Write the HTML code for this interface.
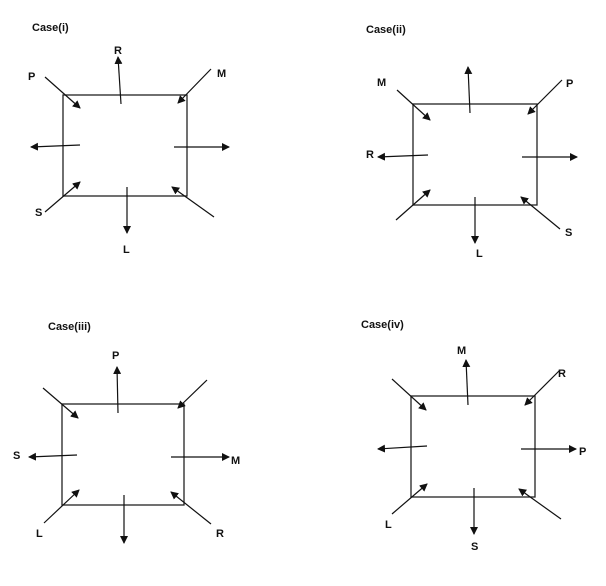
<!DOCTYPE html>
<html><head><style>body{margin:0;background:#fff}svg text{font-family:"Liberation Sans",sans-serif;font-weight:bold;font-size:11px;fill:#111}</style></head><body>
<svg width="606" height="581" xmlns="http://www.w3.org/2000/svg">
<defs><marker id="a" markerWidth="8" markerHeight="8" refX="7" refY="4" orient="auto" markerUnits="userSpaceOnUse"><path d="M0,0 L8,4 L0,8z" fill="#111"/></marker></defs>
<g stroke="#222" stroke-width="1.3" fill="none">
<rect x="63" y="95" width="124" height="101"/>
<rect x="413" y="104" width="124" height="101"/>
<rect x="62" y="404" width="122" height="101"/>
<rect x="411" y="396" width="124" height="101"/>
</g>
<g stroke="#111" stroke-width="1.2" marker-end="url(#a)">
<line x1="121" y1="104" x2="118" y2="57"/><line x1="45" y1="77" x2="80" y2="108"/><line x1="211" y1="69" x2="178" y2="103"/><line x1="80" y1="145" x2="31" y2="147"/><line x1="174" y1="147" x2="229" y2="147"/><line x1="45" y1="212" x2="80" y2="182"/><line x1="214" y1="217" x2="172" y2="187"/><line x1="127" y1="187" x2="127" y2="233"/>
<line x1="470" y1="113" x2="468" y2="67"/><line x1="397" y1="90" x2="430" y2="120"/><line x1="562" y1="80" x2="528" y2="114"/><line x1="428" y1="155" x2="378" y2="157"/><line x1="522" y1="157" x2="577" y2="157"/><line x1="396" y1="220" x2="430" y2="190"/><line x1="560" y1="229" x2="521" y2="197"/><line x1="475" y1="197" x2="475" y2="243"/>
<line x1="118" y1="413" x2="117" y2="367"/><line x1="43" y1="388" x2="78" y2="418"/><line x1="207" y1="380" x2="178" y2="408"/><line x1="77" y1="455" x2="29" y2="457"/><line x1="171" y1="457" x2="229" y2="457"/><line x1="44" y1="523" x2="79" y2="490"/><line x1="211" y1="524" x2="171" y2="492"/><line x1="124" y1="495" x2="124" y2="543"/>
<line x1="468" y1="405" x2="466" y2="360"/><line x1="392" y1="379" x2="426" y2="410"/><line x1="560" y1="370" x2="525" y2="405"/><line x1="427" y1="446" x2="378" y2="449"/><line x1="521" y1="449" x2="576" y2="449"/><line x1="392" y1="514" x2="427" y2="484"/><line x1="561" y1="519" x2="519" y2="489"/><line x1="474" y1="488" x2="474" y2="534"/>
</g>
<text x="32" y="31">Case(i)</text><text x="114" y="54">R</text><text x="28" y="80">P</text><text x="217" y="77">M</text><text x="35" y="216">S</text><text x="123" y="253">L</text>
<text x="366" y="33">Case(ii)</text><text x="377" y="86">M</text><text x="566" y="87">P</text><text x="366" y="158">R</text><text x="565" y="236">S</text><text x="476" y="257">L</text>
<text x="48" y="330">Case(iii)</text><text x="112" y="359">P</text><text x="13" y="459">S</text><text x="231" y="464">M</text><text x="36" y="537">L</text><text x="216" y="537">R</text>
<text x="361" y="328">Case(iv)</text><text x="457" y="354">M</text><text x="558" y="377">R</text><text x="579" y="455">P</text><text x="385" y="528">L</text><text x="471" y="550">S</text>
</svg></body></html>
